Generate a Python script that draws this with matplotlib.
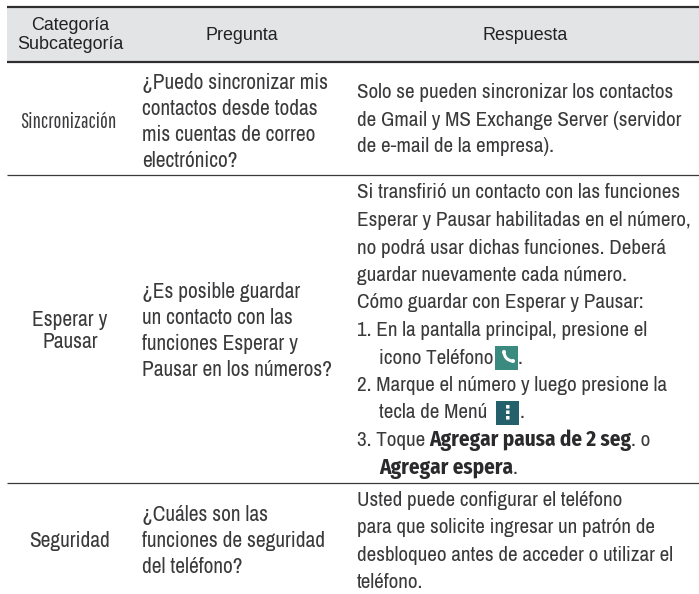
import matplotlib
matplotlib.use('Agg')
import matplotlib.pyplot as plt
from matplotlib.patches import Rectangle, Arc, Circle

headers = ['Categoría\nSubcategoría', 'Pregunta', 'Respuesta']
categories = ['Sincronización', 'Esperar y\nPausar', 'Seguridad']
questions = [
    ['¿Puedo sincronizar mis', 'contactos desde todas', 'mis cuentas de correo', 'electrónico?'],
    ['¿Es posible guardar', 'un contacto con las', 'funciones Esperar y', 'Pausar en los números?'],
    ['¿Cuáles son las', 'funciones de seguridad', 'del teléfono?'],
]
answers = [
    ['Solo se pueden sincronizar los contactos', 'de Gmail y MS Exchange Server (servidor', 'de e-mail de la empresa).'],
    ['Si transfirió un contacto con las funciones', 'Esperar y Pausar habilitadas en el número,',
     'no podrá usar dichas funciones. Deberá', 'guardar nuevamente cada número.',
     'Cómo guardar con Esperar y Pausar:', '1. En la pantalla principal, presione el',
     'icono Teléfono', '2. Marque el número y luego presione la', 'tecla de Menú',
     '3. Toque', 'Agregar espera'],
    ['Usted puede configurar el teléfono', 'para que solicite ingresar un patrón de',
     'desbloqueo antes de acceder o utilizar el', 'teléfono.'],
]
bold_text = 'Agregar pausa de 2 seg'

W, H = 699, 594
narrow = ['Archivo Narrow', 'Roboto Condensed', 'Liberation Sans', 'DejaVu Sans']
plt.rcParams['font.family'] = narrow
fig = plt.figure(figsize=(W / 100, H / 100), dpi=100)
ax = fig.add_axes([0, 0, 1, 1])
ax.set_xlim(0, W)
ax.set_ylim(H, 0)
ax.axis('off')
renderer = fig.canvas.get_renderer()


def right_edge(t):
    return ax.transData.inverted().transform((t.get_window_extent(renderer).x1, 0))[0]


ink = '#3a3a3c'
left, right = 7, 699
ax.add_patch(Rectangle((left, 7), right - left, 55, color='#e3e4e6', lw=0))
ax.plot([left, right], [7, 7], color='#2e2e30', lw=1.6, solid_capstyle='butt')
ax.plot([left, right], [62, 62], color='#2e2e30', lw=1.6, solid_capstyle='butt')
for y in [175, 483]:
    ax.plot([left, right], [y, y], color='#3a3a3c', lw=0.9, solid_capstyle='butt')

# cabecera
head_font = dict(family=['Liberation Sans', 'DejaVu Sans'], fontsize=12.9, color='#222222', ha='center', va='center')
ax.text(70, 35, headers[0], linespacing=1.15, **head_font)
ax.text(241.5, 35, headers[1], **head_font)
ax.text(525, 35, headers[2], **head_font)

body = dict(fontsize=15.4, color=ink, va='center')
answer_font = dict(fontsize=15.2, color=ink, va='center')
bold = dict(fontsize=15.2, color='#2a2a2c', va='center', fontweight='bold',
            family=['Fira Sans Condensed', 'Roboto Condensed', 'DejaVu Sans'])
step = 26.2
x_q, x_a, x_sub = 142, 357, 379

centres = [122, 331, 541]
for i, c in enumerate(categories):
    if i == 0:
        # esta va mas apretada en el original
        ax.text(68, centres[i], c, ha='center', fontsize=15, color=ink, va='center',
                family=['Pathway Gothic One', 'Archivo Narrow', 'DejaVu Sans'])
    else:
        ax.text(70, centres[i], c, ha='center', linespacing=1.1, fontsize=15.4, color=ink, va='center')
    y0 = centres[i] - (len(questions[i]) - 1) * step / 2
    for j, q in enumerate(questions[i]):
        ax.text(x_q, y0 + j * step, q, **body)

answer_top = [93, 193, 500.5]
answer_step = [27, 27.5, 27.3]
for i, lines in enumerate(answers):
    for j, line in enumerate(lines):
        y = answer_top[i] + j * answer_step[i]
        x = x_a
        if line.startswith(('icono', 'tecla', 'Agregar')):
            x = x_sub
        if line == 'Agregar espera':
            t = ax.text(x, y, line, **bold)
            ax.text(right_edge(t), y, '.', **answer_font)
        elif line == '3. Toque':
            t = ax.text(x, y, line, **answer_font)
            t = ax.text(right_edge(t) + 4, y, bold_text, **bold)
            ax.text(right_edge(t), y, '. o', **answer_font)
        else:
            ax.text(x, y, line, **answer_font)

# iconos de telefono y menu
y_phone = answer_top[1] + 6 * answer_step[1]
y_menu = answer_top[1] + 8 * answer_step[1]
ax.add_patch(Rectangle((495, y_phone - 12), 23, 24, color='#3a8a80', lw=0))
ax.add_patch(Arc((513, y_phone - 6), 18, 18, theta1=90, theta2=180, color='white', lw=2.2))
ax.add_patch(Circle((504, y_phone - 6), 2, color='white', lw=0))
ax.add_patch(Circle((513, y_phone + 3), 2, color='white', lw=0))
ax.text(518, y_phone, '.', **answer_font)
ax.add_patch(Rectangle((496, y_menu - 12), 23, 24, color='#23606c', lw=0))
ax.text(507.5, y_menu, '\u22ee', color='white', fontsize=14, fontweight='bold', ha='center', va='center', family='DejaVu Sans')
ax.text(519.5, y_menu, '.', **answer_font)

fig.savefig('out.png', dpi=100)
